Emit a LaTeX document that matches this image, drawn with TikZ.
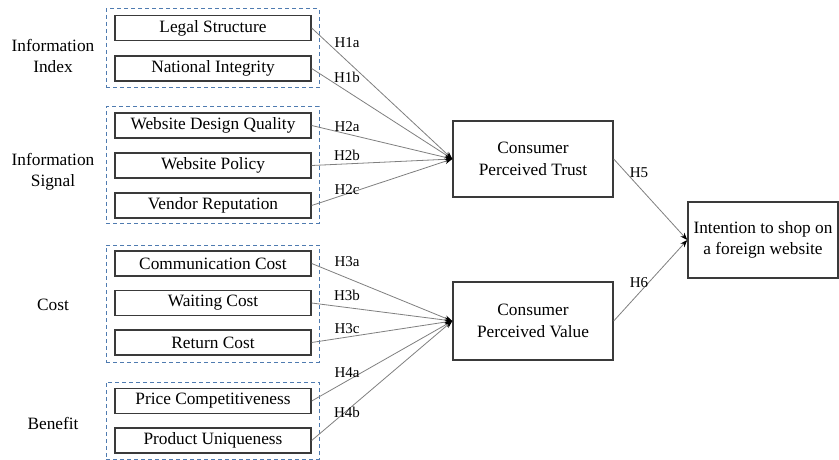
\documentclass[tikz,border=0pt]{standalone}
\usepackage{fontspec}
\setmainfont{Liberation Serif}
\usetikzlibrary{arrows.meta}
\definecolor{dashblue}{HTML}{4F7BB0}
\definecolor{linegray}{HTML}{7F7F7F}
\definecolor{boxgray}{HTML}{3A3A3A}
\begin{document}
\begin{tikzpicture}[x=1pt,y=-1pt,
  every node/.style={font=\fontsize{17.3}{21.5}\selectfont},
  smallbox/.style={draw=boxgray,line width=1.4pt,minimum width=196pt,minimum height=25pt,inner sep=0pt},
  bigbox/.style={draw=boxgray,line width=1.4pt,inner sep=0pt,align=center},
  groupbox/.style={draw=dashblue,line width=1pt,dash pattern=on 4pt off 3pt,inner sep=0pt,minimum width=213pt},
  grouplabel/.style={align=center,inner sep=0pt},
  hlabel/.style={font=\fontsize{15}{18}\selectfont,inner sep=0pt},
  link/.style={draw=linegray,line width=0.8pt,-{Stealth[length=7.5pt,width=5.5pt,black]}}
]
\useasboundingbox (0,0) rectangle (839,460);
% group boxes
\node[groupbox,minimum height=79pt] (g1) at (212.5,48.5) {};
\node[groupbox,minimum height=116pt] (g2) at (212.5,165) {};
\node[groupbox,minimum height=117pt] (g3) at (212.5,303.5) {};
\node[groupbox,minimum height=77pt] (g4) at (212.5,420.5) {};
% group labels
\node[grouplabel] (l1) at (53,56) {Information\\Index};
\node[grouplabel] (l2) at (53,172) {Information\\Signal};
\node[grouplabel] (l3) at (53,305) {Cost};
\node[grouplabel] (l4) at (53,423) {Benefit};
% small boxes
\node[smallbox] (ls) at (213,28) {Legal Structure};
\node[smallbox] (ni) at (213,68.5) {National Integrity};
\node[smallbox] (wdq) at (213,125.5) {Website Design Quality};
\node[smallbox] (wp) at (213,165.5) {Website Policy};
\node[smallbox] (vr) at (213,205.5) {Vendor Reputation};
\node[smallbox] (cc) at (213,263.5) {Communication Cost};
\node[smallbox] (wc) at (213,303) {Waiting Cost};
\node[smallbox] (rc) at (213,342.5) {Return Cost};
\node[smallbox] (pc) at (213,401) {Price Competitiveness};
\node[smallbox] (pu) at (213,440.5) {Product Uniqueness};
% big boxes
\node[bigbox,minimum width=160pt,minimum height=76pt] (trust) at (533,159) {Consumer\\Perceived Trust};
\node[bigbox,minimum width=160pt,minimum height=78pt] (value) at (533,321) {Consumer\\Perceived Value};
\node[bigbox,minimum width=150pt,minimum height=76pt] (intent) at (763,240) {Intention to shop on\\a foreign website};
% links
\foreach \s in {ls,ni,wdq,wp,vr}{\draw[link] (\s.east) -- (trust.west);}
\foreach \s in {cc,wc,rc,pc,pu}{\draw[link] (\s.east) -- (value.west);}
\draw[link] (trust.east) -- (intent.west);
\draw[link] (value.east) -- (intent.west);
% hypothesis labels
\node[hlabel] (h1a) at (347,43) {H1a};
\node[hlabel] (h1b) at (347,77) {H1b};
\node[hlabel] (h2a) at (347,127) {H2a};
\node[hlabel] (h2b) at (347,155) {H2b};
\node[hlabel] (h2c) at (347,190) {H2c};
\node[hlabel] (h3a) at (347,262) {H3a};
\node[hlabel] (h3b) at (347,295) {H3b};
\node[hlabel] (h3c) at (347,329) {H3c};
\node[hlabel] (h4a) at (347,373) {H4a};
\node[hlabel] (h4b) at (347,412) {H4b};
\node[hlabel] (h5) at (639,173) {H5};
\node[hlabel] (h6) at (639,283) {H6};
\end{tikzpicture}
\end{document}
